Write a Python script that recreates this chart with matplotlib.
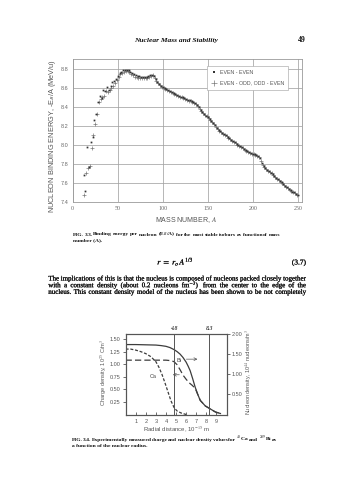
import matplotlib
matplotlib.use('Agg')
import matplotlib.pyplot as plt
import matplotlib.patheffects as pe
import numpy as np

# ---------------- data: Fig 3.3 ----------------
A_even = list(range(12, 251, 2))
BE_even = [7.68, 7.52, 7.98, 7.77, 8.03, 8.08, 8.26, 8.33, 8.45, 8.52,
           8.49, 8.58, 8.57, 8.61, 8.58, 8.62, 8.66, 8.67, 8.69, 8.73,
           8.76, 8.77, 8.79, 8.79, 8.79, 8.79, 8.77, 8.76, 8.75, 8.74,
           8.73, 8.73, 8.72, 8.72, 8.72, 8.72, 8.73, 8.74, 8.74, 8.73,
           8.69, 8.66, 8.64, 8.62, 8.61, 8.60, 8.59, 8.58, 8.57, 8.56,
           8.55, 8.54, 8.53, 8.52, 8.51, 8.50, 8.49, 8.48, 8.47, 8.47,
           8.46, 8.45, 8.44, 8.42, 8.40, 8.37, 8.35, 8.33, 8.31, 8.29,
           8.27, 8.25, 8.23, 8.21, 8.18, 8.16, 8.15, 8.13, 8.12, 8.10,
           8.08, 8.07, 8.05, 8.04, 8.03, 8.01, 8.00, 7.99, 7.98, 7.96,
           7.95, 7.94, 7.93, 7.92, 7.91, 7.90, 7.89, 7.88, 7.86, 7.81,
           7.78, 7.76, 7.74, 7.73, 7.71, 7.69, 7.67, 7.65, 7.64, 7.62,
           7.61, 7.59, 7.57, 7.56, 7.54, 7.53, 7.51, 7.50, 7.48, 7.47]
A_odd = list(range(13, 250, 2))
BE_odd = [7.47, 7.70, 7.76, 7.78, 7.97, 8.11, 8.22, 8.33, 8.45, 8.48,
          8.50, 8.52, 8.57, 8.56, 8.58, 8.60, 8.62, 8.65, 8.68, 8.72,
          8.75, 8.76, 8.77, 8.78, 8.78, 8.77, 8.75, 8.74, 8.72, 8.72,
          8.71, 8.70, 8.70, 8.70, 8.70, 8.71, 8.72, 8.73, 8.74, 8.70,
          8.67, 8.65, 8.63, 8.61, 8.60, 8.59, 8.58, 8.57, 8.56, 8.55,
          8.54, 8.53, 8.52, 8.51, 8.50, 8.49, 8.48, 8.47, 8.46, 8.46,
          8.45, 8.44, 8.43, 8.41, 8.38, 8.36, 8.34, 8.32, 8.30, 8.28,
          8.26, 8.24, 8.22, 8.19, 8.17, 8.15, 8.14, 8.12, 8.11, 8.09,
          8.07, 8.06, 8.04, 8.03, 8.02, 8.00, 7.99, 7.98, 7.97, 7.95,
          7.94, 7.93, 7.92, 7.91, 7.90, 7.89, 7.88, 7.87, 7.83, 7.79,
          7.77, 7.75, 7.73, 7.72, 7.70, 7.68, 7.66, 7.64, 7.63, 7.61,
          7.60, 7.58, 7.56, 7.55, 7.53, 7.52, 7.50, 7.49, 7.47]
x_ticks_top = [0, 50, 100, 150, 200, 250]
y_ticks_top = [7.4, 7.6, 7.8, 8.0, 8.2, 8.4, 8.6, 8.8]
legend_labels = ['EVEN - EVEN', 'EVEN - ODD, ODD - EVEN']

# ---------------- data: Fig 3.4 ----------------
r_bi_charge = [0, 1, 2, 3, 3.5, 4.0, 4.4, 4.8, 5.1, 5.4, 5.7, 6.0, 6.2, 6.4, 6.65, 6.9, 7.15, 7.4, 7.9, 8.4, 8.9, 9.4]
bi_charge = [1.39, 1.39, 1.385, 1.38, 1.37, 1.355, 1.33, 1.29, 1.25, 1.20, 1.13, 1.04, 0.96, 0.87, 0.71, 0.54, 0.40, 0.28, 0.17, 0.11, 0.05, 0.02]
r_bi_nucleon = [0, 1, 2, 3, 4.0, 4.5, 4.8, 5.1, 5.4, 5.7, 6.0, 6.3, 6.6, 6.9, 7.15, 7.4, 7.9, 8.4, 8.9, 9.4]
bi_nucleon = [1.08, 1.08, 1.08, 1.08, 1.08, 1.07, 1.05, 0.99, 0.89, 0.78, 0.70, 0.63, 0.58, 0.52, 0.40, 0.28, 0.17, 0.11, 0.05, 0.02]
r_ca_charge = [0, 0.5, 1.0, 1.5, 2.0, 2.5, 3.0, 3.3, 3.6, 3.9, 4.2, 4.5, 4.8, 5.1, 5.5, 6.0]
ca_charge = [1.30, 1.30, 1.28, 1.25, 1.21, 1.15, 1.05, 0.94, 0.80, 0.63, 0.45, 0.27, 0.14, 0.07, 0.03, 0.0]
marker_radii = [4.8, 8.3]
left_ticks = [0.25, 0.50, 0.75, 1.00, 1.25, 1.50]
right_ticks = [0.50, 1.00, 1.50, 2.00]
r_ticks = [1, 2, 3, 4, 5, 6, 7, 8, 9]

# ---------------- page ----------------
plt.rcParams['mathtext.fontset'] = 'stix'
W, H = 352, 480
fig = plt.figure(figsize=(W / 100, H / 100), dpi=100)
fig.patch.set_facecolor('white')
renderer = fig.canvas.get_renderer()

SERIF = ['Liberation Serif', 'DejaVu Serif']
SANS_W = ['Liberation Sans', 'DejaVu Sans']
TXT = '#111111'
INK = [pe.withStroke(linewidth=0.15, foreground=TXT)]


def fx(x):
    return x / W


def fy(y):
    return 1 - y / H


def put(x, y, s, **kw):
    return fig.text(fx(x), fy(y), s, **kw)


def justify(s, x0, x1, y, **kw):
    words = s.split()
    ts = [put(x0, y, w, ha='left', va='baseline', **kw) for w in words]
    ws = [t.get_window_extent(renderer).width for t in ts]
    gap = (x1 - x0 - sum(ws)) / (len(words) - 1)
    x = x0
    for t, w in zip(ts, ws):
        t.set_x(fx(x))
        x += w + gap


# header
put(176.5, 42, 'Nuclear Mass and Stability', ha='center', va='baseline',
    family=SERIF, style='italic', weight='bold', fontsize=5.4, color=TXT)
put(306, 42, '49', ha='right', va='baseline', family=SERIF, weight='bold',
    fontsize=5.6, color=TXT)

# ---------------- Fig 3.3 ----------------
ax = fig.add_axes([fx(72.7), fy(202), 229 / W, 143.5 / H])
ax.set_xlim(0, 254.4)
ax.set_ylim(7.4, 8.91)
ax.set_xticks(x_ticks_top)
ax.set_yticks(y_ticks_top)
ax.grid(True, color='#a3a3a3', lw=0.55)
ax.set_axisbelow(True)
for s in ax.spines.values():
    s.set_color('#9a9a9a')
    s.set_linewidth(0.6)
ax.tick_params(length=0, pad=3, colors='#6a6a6a')
ax.set_yticklabels(['%.1f' % v for v in y_ticks_top])
for lab in ax.get_xticklabels():
    lab.set_family(SERIF)
    lab.set_fontsize(4.3)
for lab in ax.get_yticklabels():
    lab.set_family(SANS_W)
    lab.set_fontsize(4.0)
ax.plot(A_odd, BE_odd, ls='none', marker='+', ms=3.0, mew=0.5,
        color='#7a7a7a', label=legend_labels[1])
ax.plot(A_even, BE_even, ls='none', marker='s', ms=1.25, mew=0,
        color='#333333', label=legend_labels[0])
h, l = ax.get_legend_handles_labels()
leg = ax.legend([h[1], h[0]], [l[1], l[0]], loc='upper right',
                bbox_to_anchor=((290.7 - 72.7) / 229, (202 - 63.3) / 143.5),
                prop={'family': SANS_W, 'size': 3.8}, fancybox=False,
                edgecolor='#b0b0b0', framealpha=1, handlelength=1.0,
                handletextpad=0.6, borderpad=0.8, labelspacing=1.0,
                markerscale=1.3)
leg.get_frame().set_linewidth(0.5)
for t in leg.get_texts():
    t.set_color('#555555')

fig.text(fx(53), fy(136), r'NUCLEON BINDING ENERGY, -E$_{\mathsf{B}}$/A (MeV/u)',
         rotation=90, ha='center', va='center', family=SANS_W, fontsize=5.3,
         color='#555555')
fig.text(fx(186), fy(220), 'MASS NUMBER, $\\mathsf{\\it{A}}$', ha='center',
         va='center', family=SANS_W, fontsize=5.0, color='#555555')

# captions
cap33 = ['FIG. 3.3. Binding energy per nucleon (E$_B$/A) for the most stable isobars as function of mass',
         'number (A).']
cap34 = [r'FIG. 3.4. Experimentally measured charge and nuclear density values for $^{40}$Ca and $^{209}$Bi as',
         'a function of the nuclear radius.']
capkw = dict(family=SERIF, weight='bold', color=TXT, fontsize=3.95)
justify(cap33[0], 72.7, 280, 235.5, **capkw)
put(72.7, 241.2, cap33[1], ha='left', va='baseline', **capkw)

# equation
put(175.5, 264.5, r'$r\ =\ r_o\,A^{1/3}$', ha='center', va='baseline',
    fontsize=5.8, color=TXT, path_effects=INK)
put(306, 264.5, '(3.7)', ha='right', va='baseline', family=SERIF,
    fontsize=5.3, color=TXT, path_effects=INK)

# paragraph
para = ['The implications of this is that the nucleus is composed of nucleons packed closely together',
        'with a constant density (about 0.2 nucleons fm$^{-3}$) from the center to the edge of the',
        'nucleus. This constant density model of the nucleus has been shown to be not completely']
for i, line in enumerate(para):
    justify(line, 48.3, 306, 280.5 + 6.7 * i, family=SERIF, color=TXT,
            fontsize=5.0, path_effects=INK)

# ---------------- Fig 3.4 ----------------
ax2 = fig.add_axes([fx(125.6), fy(414.5), 100.9 / W, 80.5 / H])
ax2.set_xlim(0, 10)
ax2.set_ylim(0, 1.6)
LC = '#3c3c3c'
ax2.plot(r_bi_charge, bi_charge, color=LC, lw=0.9)
ax2.plot(r_bi_nucleon, bi_nucleon, color=LC, lw=0.9, dashes=(5, 2.5))
ax2.plot(r_ca_charge, ca_charge, color=LC, lw=0.9, dashes=(2.4, 1.4))
for rv in marker_radii:
    ax2.axvline(rv, color='#555555', lw=0.7)
    fig.text(fx(125.6 + rv * 10.09), fy(330.5), '%.1f' % rv, ha='center',
             va='baseline', family=SERIF, style='italic', weight='bold',
             fontsize=4.2, color='#444444')
for s in ax2.spines.values():
    s.set_color('#555555')
    s.set_linewidth(0.8)
ax2.set_yticks(left_ticks)
ax2.set_yticklabels(['%.2f' % v for v in left_ticks])
ax2.set_xticks(r_ticks)
ax2.set_xticklabels([str(v) for v in r_ticks])
ax2.tick_params(axis='y', direction='out', length=2.2, width=0.6, pad=1.5,
                colors='#555555', labelsize=4.0)
ax2.tick_params(axis='x', direction='in', length=2.0, width=0.6, pad=3,
                colors='#555555', labelsize=4.0)
for lab in ax2.get_xticklabels() + ax2.get_yticklabels():
    lab.set_family(SANS_W)

ax2r = ax2.twinx()
ax2r.set_ylim(0, 2.0)
ax2r.set_yticks(right_ticks)
ax2r.set_yticklabels(['%.2f' % v for v in right_ticks])
ax2r.tick_params(axis='y', direction='out', length=2.2, width=0.6, pad=1.5,
                 colors='#555555', labelsize=4.0)
for lab in ax2r.get_yticklabels():
    lab.set_family(SANS_W)
for s in ax2r.spines.values():
    s.set_color('#555555')
    s.set_linewidth(0.8)

ax2.annotate('', xy=(7.4, 1.10), xytext=(5.75, 1.10),
             arrowprops=dict(arrowstyle='->', lw=0.5, color='#555555',
                             mutation_scale=5))
ax2.text(5.25, 1.08, 'Bi', ha='center', va='center', family=SANS_W,
         fontsize=4.0, color='#444444',
         bbox=dict(boxstyle='square,pad=0.1', fc='white', ec='none'))
ax2.annotate('', xy=(4.4, 0.79), xytext=(5.6, 0.79),
             arrowprops=dict(arrowstyle='->', lw=0.5, color='#555555',
                             mutation_scale=5))
ax2.text(2.75, 0.76, 'Ca', ha='center', va='center', family=SANS_W,
         fontsize=4.0, color='#444444',
         bbox=dict(boxstyle='square,pad=0.1', fc='white', ec='none'))

fig.text(fx(103.5), fy(372), r'Charge density, 10$^{25}$ C/m$^3$', rotation=90,
         ha='center', va='center', family=SANS_W, fontsize=4.1,
         color='#555555')
fig.text(fx(248.5), fy(372), r'Nucleon density, 10$^{44}$ nucleons/m$^3$',
         rotation=90, ha='center', va='center', family=SANS_W, fontsize=4.0,
         color='#555555')
fig.text(fx(176.5), fy(430), r'Radial distance, 10$^{-15}$ m', ha='center',
         va='center', family=SANS_W, fontsize=4.3, color='#555555')

justify(cap34[0], 71.7, 277, 441, **capkw)
put(71.7, 446.8, cap34[1], ha='left', va='baseline', **capkw)

fig.savefig('out.png', dpi=100, facecolor='white')
